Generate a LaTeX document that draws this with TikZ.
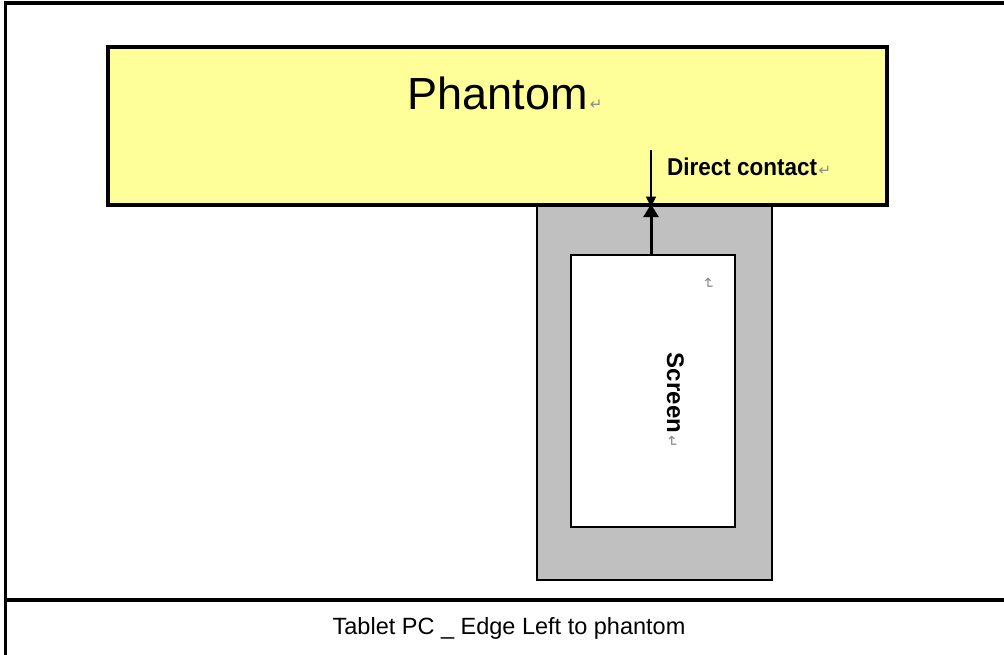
\documentclass[tikz,border=0pt]{standalone}
\usepackage{fontspec}
\setmainfont{Liberation Sans}
\newfontfamily\symfont{DejaVu Sans}
\usetikzlibrary{arrows.meta}
\definecolor{phyellow}{HTML}{FFFF99}
\definecolor{tabgray}{HTML}{C0C0C0}
\definecolor{markgray}{HTML}{8A8A8A}
\tikzset{
  box/.style={draw=black, rectangle, inner sep=0pt},
  pmark/.style={text=markgray, font=\symfont\fontsize{15}{15}\selectfont, inner sep=0pt},
  frameline/.style={line width=3.2pt, line cap=rect}
}
\begin{document}
\begin{tikzpicture}[x=1pt,y=-1pt]
\useasboundingbox (0,0) rectangle (1004,655);
% frame
\coordinate (tl) at (5.5,3);
\coordinate (tr) at (1004,3);
\coordinate (bl) at (5.5,655);
\coordinate (ml) at (5.5,600);
\coordinate (mr) at (1004,600);
\draw[frameline] (tr) -- (tl) -- (bl);
\draw[frameline] (ml) -- (mr);
% tablet
\node[box, fill=tabgray, line width=1.6pt, minimum width=235pt, minimum height=375pt] (tablet) at (654.5,392.5) {};
\node[box, fill=white, line width=1.6pt, minimum width=164pt, minimum height=272pt] (screen) at (653,391) {};
% phantom
\node[box, fill=phyellow, line width=3.4pt, minimum width=779pt, minimum height=158pt] (phantom) at (497.5,126) {};
\node[inner sep=0pt, font=\fontsize{45}{45}\selectfont] (ptext) at (497.5,93) {Phantom};
\node[pmark, anchor=base west] (pm1) at ([xshift=2pt]ptext.base east) {↵};
\node[inner sep=0pt, font=\bfseries\fontsize{22.5}{22.5}\selectfont, anchor=west, yscale=1.08] (dc) at (667,167) {Direct contact};
\node[pmark, anchor=base west] (pm2) at ([xshift=1pt]dc.base east) {↵};
% screen label
\node[inner sep=0pt, font=\bfseries\fontsize{24}{24}\selectfont, rotate=-90, anchor=north] (scr) at (684,393) {Screen};
\node[pmark, rotate=-90, anchor=base west] (pm3) at ([yshift=-2pt]scr.base east) {↵};
\node[pmark, rotate=-90] (pm4) at (708,284) {↵};
% arrows
\coordinate (dtop) at (651,150);
\draw[line width=1.2pt, -{Triangle[length=10pt,width=10pt]}] (dtop) -- (dtop |- phantom.south);
\draw[line width=3pt, -{Triangle[length=13pt,width=15pt]}] (dtop |- screen.north) -- (dtop |- tablet.north);
% caption
\node[inner sep=0pt, font=\fontsize{23.5}{23.5}\selectfont] (cap) at (509,628) {Tablet PC \_ Edge Left to phantom};
\end{tikzpicture}
\end{document}
